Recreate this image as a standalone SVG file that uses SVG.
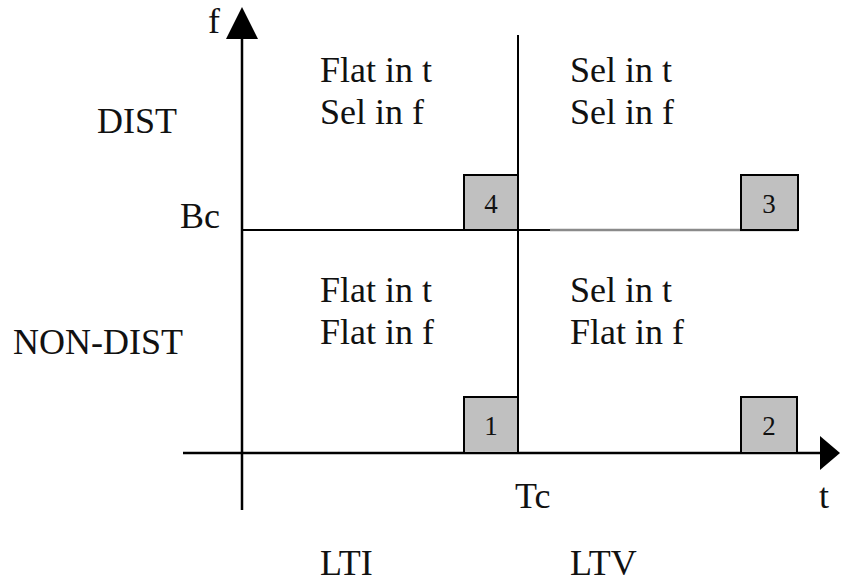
<svg xmlns="http://www.w3.org/2000/svg" width="842" height="582" viewBox="0 0 842 582">
  <style>
    text { font-family: "Liberation Serif", "Times New Roman", Times, "DejaVu Serif", serif; fill: #111; }
    .lbl { font-size: 36px; }
    .num { font-size: 27px; text-anchor: middle; }
    .ax { stroke: #000; stroke-width: 2.5; fill: none; }
    .ln { stroke: #000; stroke-width: 2; fill: none; }
    .box { fill: #c0c0c0; stroke: #000; stroke-width: 2; }
    .head { fill: #000; }
  </style>

  <!-- axes, divider lines and arrowheads -->
  <g id="connectors">
    <line class="ax" x1="242" y1="36" x2="242" y2="510"/>
    <polygon class="head" points="242,7 226,39 258,39"/>
    <line class="ax" x1="183" y1="453" x2="822" y2="453"/>
    <polygon class="head" points="840,453 820,436 820,470"/>
    <line class="ln" x1="518" y1="35" x2="518" y2="453"/>
    <line class="ln" x1="242" y1="230" x2="550" y2="230"/>
    <line stroke="#8a8a8a" stroke-width="2.5" x1="550" y1="230" x2="798" y2="230"/>
  </g>

  <!-- axis labels -->
  <g id="axis-labels">
    <text class="lbl" x="208" y="33" font-family="Liberation Serif">f</text>
    <text class="lbl" x="819" y="508" font-family="Liberation Serif">t</text>
    <text class="lbl" x="515" y="508" font-family="Liberation Serif">Tc</text>
    <text class="lbl" x="180" y="228" font-family="Liberation Serif">Bc</text>
    <text class="lbl" x="97" y="133" font-family="Liberation Serif">DIST</text>
    <text class="lbl" x="13" y="354" font-family="Liberation Serif">NON-DIST</text>
    <text class="lbl" x="320" y="575" font-family="Liberation Serif">LTI</text>
    <text class="lbl" x="570" y="575" font-family="Liberation Serif">LTV</text>
  </g>

  <!-- quadrant descriptions -->
  <g id="quad-lti-dist" font-family="Liberation Serif">
    <text class="lbl" x="320" y="82">Flat in t</text>
    <text class="lbl" x="320" y="124">Sel in f</text>
  </g>
  <g id="quad-ltv-dist" font-family="Liberation Serif">
    <text class="lbl" x="570" y="82">Sel in t</text>
    <text class="lbl" x="570" y="124">Sel in f</text>
  </g>
  <g id="quad-lti-nondist" font-family="Liberation Serif">
    <text class="lbl" x="320" y="302">Flat in t</text>
    <text class="lbl" x="320" y="344">Flat in f</text>
  </g>
  <g id="quad-ltv-nondist" font-family="Liberation Serif">
    <text class="lbl" x="570" y="302">Sel in t</text>
    <text class="lbl" x="570" y="344">Flat in f</text>
  </g>

  <!-- numbered corner boxes -->
  <g id="box-1">
    <rect class="box" x="464" y="397" width="54" height="56"/>
    <text class="num" x="491" y="435">1</text>
  </g>
  <g id="box-2">
    <rect class="box" x="741" y="397" width="56" height="56"/>
    <text class="num" x="769" y="435">2</text>
  </g>
  <g id="box-3">
    <rect class="box" x="741" y="175" width="57" height="55"/>
    <text class="num" x="769" y="213">3</text>
  </g>
  <g id="box-4">
    <rect class="box" x="464" y="175" width="54" height="55"/>
    <text class="num" x="491" y="213">4</text>
  </g>
</svg>
